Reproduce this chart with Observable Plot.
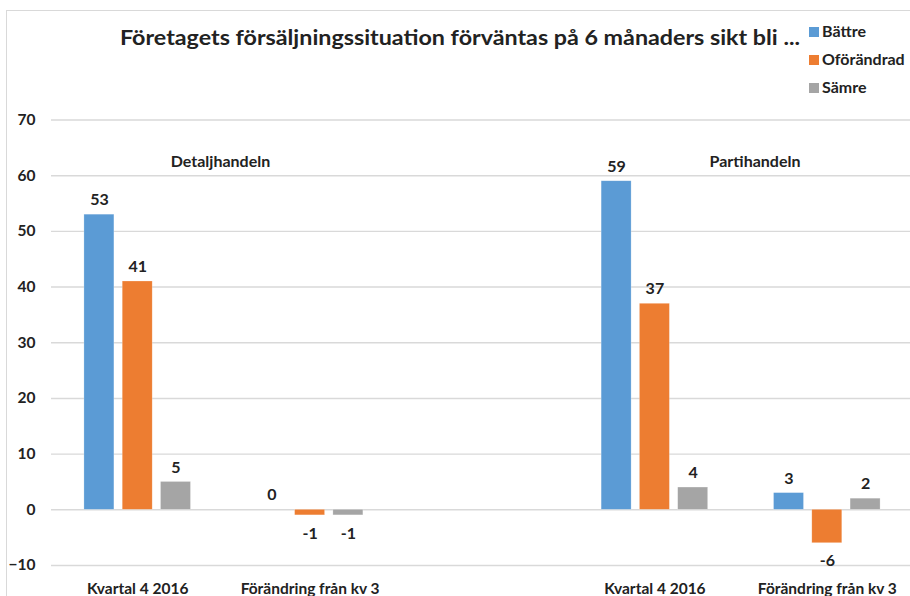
<!DOCTYPE html>
<html><head><meta charset="utf-8">
<script src="https://cdn.jsdelivr.net/npm/d3@7"></script>
<script src="https://cdn.jsdelivr.net/npm/@observablehq/plot@0.6"></script>
<style>
html,body{margin:0;padding:0;background:#fff;overflow:hidden;}
#wrap{position:relative;width:910px;height:596px;overflow:hidden;font-family:Lato,"Open Sans",sans-serif;font-weight:700;color:#222;}
#frame{position:absolute;left:6px;top:10px;width:1000px;height:1000px;border-left:1px solid #d9d9d9;border-top:1px solid #d9d9d9;}
#title{position:absolute;left:120px;top:23px;font-size:21px;line-height:28px;white-space:nowrap;transform-origin:0 0;}
#legend{position:absolute;left:809px;top:0;}
.li{position:absolute;left:0;white-space:nowrap;font-size:16px;line-height:18px;height:18px;}
.sw{display:inline-block;width:10px;height:10px;margin-right:3px;vertical-align:0px;}
#base,#chart{position:absolute;left:0;top:100px;width:914px;}
#base svg,#chart svg{max-width:none !important;}
</style>
</head><body>
<div id="wrap">
  <div id="frame"></div>
  <div id="title"></div>
  <div id="legend"></div>
  <div id="base"></div>
  <div id="chart"></div>
</div>
<script>
const titleText = "Företagets försäljningssituation förväntas på 6 månaders sikt bli ...";
const sectors = ["Detaljhandeln", "Partihandeln"];
const periods = ["Kvartal 4 2016", "Förändring från kv 3"];
const series = ["Bättre", "Oförändrad", "Sämre"];
const colors = ["#5B9BD5", "#ED7D31", "#A5A5A5"];
const detaljKvartal = [53, 41, 5];
const detaljForandring = [0, -1, -1];
const partiKvartal = [59, 37, 4];
const partiForandring = [3, -6, 2];
const yTicks = [-10, 0, 10, 20, 30, 40, 50, 60, 70];

// group keys (with an empty slot between the two sectors)
const groups = [
  {key: "D0", label: periods[0], values: detaljKvartal},
  {key: "D1", label: periods[1], values: detaljForandring},
  {key: "gap", label: "", values: []},
  {key: "P0", label: periods[0], values: partiKvartal},
  {key: "P1", label: periods[1], values: partiForandring}
];
const groupLabel = new Map(groups.map(g => [g.key, g.label]));
const rows = groups.flatMap(g => g.values.map((v, i) => ({group: g.key, series: series[i], value: v})));

const t = document.getElementById("title");
t.textContent = titleText;
const tw = t.getBoundingClientRect().width;
t.style.transform = `scaleX(${680 / tw})`;

const legend = document.getElementById("legend");
const legendCenters = [30.5, 59, 87];
series.forEach((s, i) => {
  const d = document.createElement("div");
  d.className = "li";
  d.style.top = (legendCenters[i] - 9) + "px";
  d.innerHTML = `<span class="sw" style="background:${colors[i]}"></span>${s}`;
  legend.appendChild(d);
});

const font = "Lato, 'Open Sans', sans-serif";
const txt = {fontFamily: font, fontWeight: 700, fontSize: 16, fill: "#222"};
const dims = {width: 914, height: 496, marginLeft: 51, marginRight: 1, marginTop: 19.5, marginBottom: 31};
const yScale = {domain: [-10, 70], ticks: yTicks, tickSize: 0, tickPadding: 16, label: null};
const style = {fontFamily: font, fontSize: "15.5px", fontWeight: 700, color: "#222", background: "transparent", overflow: "visible", maxWidth: "none"};

// base layer: gridlines and y axis over the full width
const base = Plot.plot({
  ...dims,
  style,
  x: {domain: [0, 1], axis: null},
  y: yScale,
  marks: [
    Plot.ruleY(yTicks, {stroke: "#d9d9d9", strokeWidth: 1.4})
  ]
});
document.getElementById("base").appendChild(base);

// bars, labels and category axis
const chart = Plot.plot({
  ...dims,
  style,
  fx: {domain: groups.map(g => g.key), padding: 0, round: false, axis: "bottom", tickSize: 0, tickPadding: 17, label: null, tickFormat: k => groupLabel.get(k)},
  x: {domain: series, paddingInner: 0.217, paddingOuter: 0.86, round: false, axis: null},
  y: {...yScale, axis: null},
  color: {domain: series, range: colors},
  marks: [
    Plot.barY(rows, {fx: "group", x: "series", y: "value", fill: "series", stroke: "#fff", strokeOpacity: 0.4, strokeWidth: 0.6}),
    Plot.text(rows.filter(d => d.value >= 0), {fx: "group", x: "series", y: "value", text: d => String(d.value), dy: -14.5, ...txt}),
    Plot.text(rows.filter(d => d.value < 0), {fx: "group", x: "series", y: "value", text: d => String(d.value), dy: 18, ...txt}),
    Plot.text([sectors[0]], {fx: () => "D0", x: () => "Sämre", y: () => 62.4, text: d => d, dx: 44.5, ...txt}),
    Plot.text([sectors[1]], {fx: () => "P1", x: () => "Bättre", y: () => 62.4, text: d => d, dx: -34, ...txt})
  ]
});
document.getElementById("chart").appendChild(chart);
</script>
</body></html>
